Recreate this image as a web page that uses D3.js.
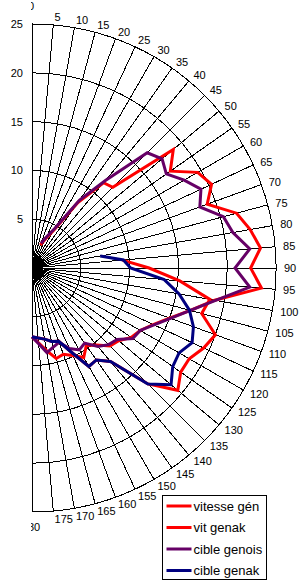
<!DOCTYPE html>
<html>
<head>
<meta charset="utf-8">
<script src="https://cdn.jsdelivr.net/npm/d3@7"></script>
<style>
  body { margin: 0; background: #fff; }
  svg { display: block; font-family: Arial, "Liberation Sans", sans-serif; }
</style>
</head>
<body>
<svg id="chart"></svg>
<script>
// angle categories (degrees) and radial ticks
const spokeAngles = [0, 5, 10, 15, 20, 25, 30, 35, 40, 45, 50, 55, 60, 65, 70, 75, 80, 85, 90,
                     95, 100, 105, 110, 115, 120, 125, 130, 135, 140, 145, 150, 155, 160, 165, 170, 175, 180];
const ringValues = [5, 10, 15, 20, 25];

// vitesse gén
const vitGenAngles = [20, 25, 30, 35, 40, 45, 50, 55, 60, 65, 70, 75, 80, 85, 90, 95, 100,
                      105, 110, 115, 120, 125, 130, 135, 140, 145, 150, 155, 160, 165, 170, 175, 180];
const vitGenValues = [2.5, 3.3, 4.5, 8.2, 11.4, 11.7, 18.9, 17.3, 19.6, 20.3, 19.1, 21.7, 22.7, 23.5, 22.4, 23.6, 19.0,
                      16.8, 15.0, 13.7, 12.8, 12.4, 11.6, 11.3, 10.3, 9.7, 10.6, 9.9, 9.4, 9.6, 8.6, 7.7, 7.05];

// vit genak
const vitGenakAngles = [85, 90, 95, 100, 105, 110, 115, 120, 125, 130, 135, 140, 145, 150, 155, 160, 165, 170, 175, 180];
const vitGenakValues = [9.3, 12.0, 15.2, 18.5, 18.0, 20.0, 19.4, 18.6, 18.6, 19.5, 16.8, 12.5, 11.5, 11.65, 9.5, 8.0, 7.8, 7.4, 7.2, 7.05];

// cible genois
const cibleGenoisAngles = [20, 25, 30, 35, 40, 45, 50, 55, 60, 65, 70, 75, 80, 85, 90, 95, 100,
                           105, 110, 115, 120, 125, 130, 135, 140, 145, 150, 155, 160, 165, 170, 175, 180];
const cibleGenoisValues = [2.7, 3.5, 4.7, 8.5, 11.7, 16.7, 17.4, 16.8, 18.0, 19.1, 18.3, 20.3, 20.9, 22.4, 20.8, 22.4, 19.1,
                           16.8, 15.1, 13.8, 12.8, 12.6, 11.4, 11.1, 10.5, 9.4, 9.7, 9.1, 8.1, 8.4, 8.8, 7.8, 7.05];

// cible genak
const cibleGenakAngles = [80, 85, 90, 95, 100, 105, 110, 115, 120, 125, 130, 135, 140, 145, 150, 155, 160, 165, 170, 175, 180];
const cibleGenakValues = [7.1, 9.4, 10.1, 13.6, 15.3, 16.7, 17.6, 18.1, 17.4, 17.6, 18.6, 16.8, 12.5, 11.5, 11.65, 9.5, 8.0, 7.8, 7.4, 7.2, 7.05];

const seriesNames = ['vitesse gén', 'vit genak', 'cible genois', 'cible genak'];
const seriesColors = ['#ff0000', '#ff0000', '#660066', '#000080'];

const series = [
  { name: seriesNames[0], color: seriesColors[0], angles: vitGenAngles, values: vitGenValues },
  { name: seriesNames[1], color: seriesColors[1], angles: vitGenakAngles, values: vitGenakValues },
  { name: seriesNames[2], color: seriesColors[2], angles: cibleGenoisAngles, values: cibleGenoisValues },
  { name: seriesNames[3], color: seriesColors[3], angles: cibleGenakAngles, values: cibleGenakValues }
];

const width = 300, height = 584;
const cx = 32, cy = 268, R = 244;

const r = d3.scaleLinear().domain([0, 25]).range([0, R]);
const a = d3.scaleLinear().domain([0, 360]).range([0, 2 * Math.PI]);

const svg = d3.select('#chart')
              .attr('width', width)
              .attr('height', height);

const g = svg.append('g').attr('transform', `translate(${cx},${cy})`);

// the left half of the plot is cut off
svg.append('defs').append('clipPath').attr('id', 'half')
   .append('rect')
   .attr('x', -1).attr('y', -cy)
   .attr('width', width).attr('height', height);

const grid = g.append('g')
              .attr('stroke', '#000')
              .attr('stroke-width', 1)
              .attr('fill', 'none')
              .attr('shape-rendering', 'crispEdges');

// rings
grid.selectAll('path.ring')
    .data(ringValues)
    .join('path')
    .attr('class', 'ring')
    .attr('d', d => d3.arc()({ innerRadius: r(d), outerRadius: r(d), startAngle: 0, endAngle: Math.PI }));

// spokes
grid.selectAll('line.spoke')
    .data(spokeAngles)
    .join('line')
    .attr('class', 'spoke')
    .attr('x1', 0).attr('y1', 0)
    .attr('x2', d => r(25) * Math.sin(a(d)))
    .attr('y2', d => -r(25) * Math.cos(a(d)));

// radial tick labels
g.selectAll('text.rtick')
 .data(ringValues)
 .join('text')
 .attr('class', 'rtick')
 .attr('x', -9)
 .attr('y', d => -r(d) + 4)
 .attr('text-anchor', 'end')
 .attr('font-size', 11)
 .text(d => d);

const clipped = g.append('g').attr('clip-path', 'url(#half)');

// angle labels
clipped.selectAll('text.atick')
  .data(spokeAngles)
  .join('text')
  .attr('class', 'atick')
  .attr('font-size', 11)
  .attr('text-anchor', d => (d === 0 || d === 180) ? 'middle' : 'start')
  .attr('x', d => {
    if (d === 0 || d === 180) return -1;
    const s = Math.sin(a(d));
    return (R + 3) * s + 1 + 4 * s * s;
  })
  .attr('y', d => {
    if (d === 0) return -R - 14;
    if (d === 180) return R + 19;
    const c = Math.cos(a(d));
    return -(R + 3) * c - 4.5 * c + 4;
  })
  .text(d => d);

// series lines
const line = d3.lineRadial()
               .angle(d => a(d[0]))
               .radius(d => r(d[1]));

clipped.selectAll('path.series')
  .data(series)
  .join('path')
  .attr('class', 'series')
  .attr('fill', 'none')
  .attr('stroke', d => d.color)
  .attr('stroke-width', 3)
  .attr('stroke-linejoin', 'miter')
  .attr('d', d => line(d.angles.map((ang, i) => [ang, d.values[i]])));

// legend
const legend = svg.append('g').attr('transform', 'translate(162.5,495.5)');
legend.append('rect')
      .attr('width', 104).attr('height', 84)
      .attr('fill', '#fff').attr('stroke', '#000');

const rows = legend.selectAll('g.row')
  .data(series)
  .join('g')
  .attr('class', 'row')
  .attr('transform', (d, i) => `translate(0,${10.5 + i * 21.5})`);

rows.append('line')
    .attr('x1', 4).attr('x2', 29)
    .attr('stroke', d => d.color)
    .attr('stroke-width', 3);

rows.append('text')
    .attr('x', 31)
    .attr('y', 4.5)
    .attr('font-size', 13)
    .text(d => d.name);
</script>
</body>
</html>
